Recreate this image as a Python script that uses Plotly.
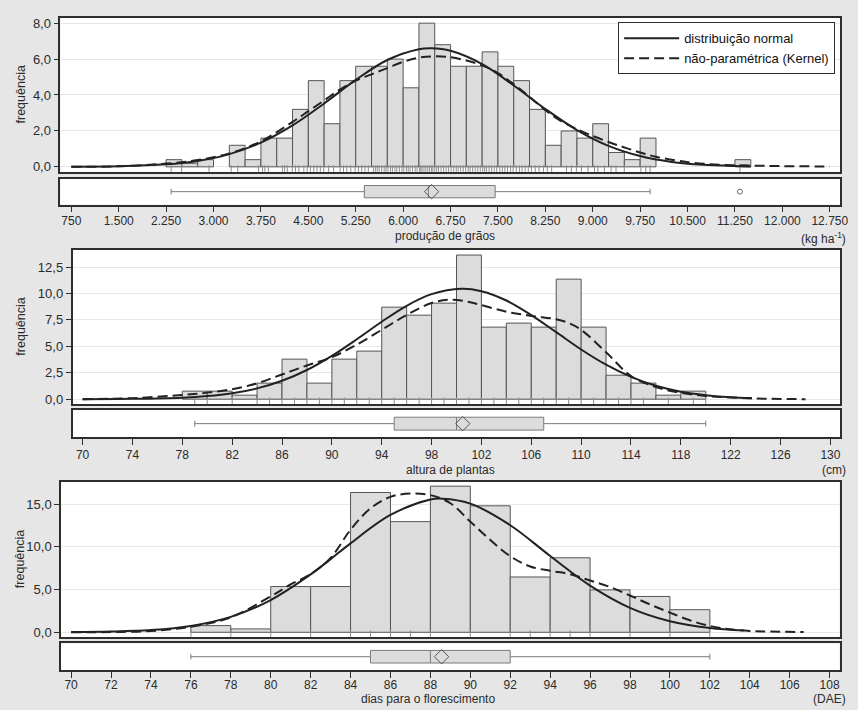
import plotly.graph_objects as go

W, H = 858, 710

# ======================= DATA =======================
# ---- Painel 1: produção de grãos (kg ha-1) ----
grain_bin_width = 250
grain_bin_left = [2250, 2500, 2750, 3250, 3500, 3750, 4000, 4250, 4500, 4750,
                  5000, 5250, 5500, 5750, 6000, 6250, 6500, 6750, 7000, 7250,
                  7500, 7750, 8000, 8250, 8500, 8750, 9000, 9250, 9500, 9750, 11250]
grain_freq = [0.4, 0.2, 0.4, 1.2, 0.4, 1.6, 1.6, 3.2, 4.8, 2.4,
              4.8, 5.6, 5.6, 6.0, 4.4, 8.0, 6.8, 5.6, 5.6, 6.4,
              5.6, 4.8, 3.2, 1.2, 2.0, 1.6, 2.4, 0.8, 0.4, 1.6, 0.4]
grain_normal_x = [750, 1500, 2250, 2750, 3250, 3750, 4250, 4750, 5250, 5750, 6250, 6450,
                  6750, 7250, 7750, 8250, 8750, 9250, 9750, 10250, 10750, 11250, 11500]
grain_normal_y = [0.01, 0.03, 0.14, 0.33, 0.71, 1.35, 2.31, 3.53, 4.84, 5.95, 6.55, 6.6,
                  6.46, 5.72, 4.53, 3.22, 2.05, 1.17, 0.60, 0.27, 0.11, 0.04, 0.02]
grain_kernel_x = [750, 1500, 2250, 2750, 3250, 3750, 4250, 4500, 4750, 5000, 5250, 5500,
                  5750, 6000, 6250, 6500, 6750, 7000, 7250, 7500, 7750, 8000, 8250, 8500,
                  8750, 9000, 9250, 9500, 9750, 10000, 10500, 11000, 11500, 12000, 12750]
grain_kernel_y = [0.0, 0.03, 0.18, 0.38, 0.75, 1.42, 2.5, 3.1, 3.7, 4.3, 4.8, 5.15,
                  5.5, 5.85, 6.08, 6.15, 6.1, 5.92, 5.65, 5.22, 4.6, 3.9, 3.15, 2.55,
                  2.1, 1.72, 1.38, 1.08, 0.8, 0.56, 0.26, 0.12, 0.07, 0.04, 0.02]
grain_rug = [2329, 2495, 2929, 3279, 3384, 3713, 3776, 3812, 3866, 4090, 4126, 4168,
             4246, 4298, 4351, 4429, 4482, 4533, 4586, 4638, 4690, 4743, 4821, 4900,
             5003, 5056, 5109, 5171, 5239, 5292, 5344, 5396, 5449, 5528, 5560, 5590,
             5620, 5660, 5700, 5730, 5760, 5800, 5830, 5870, 5900, 5940, 5980, 6010,
             6050, 6080, 6110, 6150, 6190, 6220, 6260, 6280, 6300, 6330, 6360, 6390,
             6420, 6450, 6470, 6500, 6530, 6560, 6600, 6640, 6680, 6720, 6760, 6800,
             6840, 6870, 6910, 6950, 6990, 7030, 7060, 7100, 7140, 7180, 7220, 7260,
             7290, 7320, 7360, 7400, 7440, 7480, 7530, 7570, 7610, 7650, 7700, 7740,
             7790, 7840, 7880, 7930, 7980, 8030, 8090, 8150, 8220, 8280, 8349, 8584,
             8663, 8741, 8820, 8924, 9028, 9080, 9185, 9290, 9368, 9499, 9761, 9839,
             9907, 11328]
grain_box_stats = [2329, 5386, 6400, 7456, 9907]   # whisker low, Q1, median, Q3, whisker high
grain_mean = 6450
grain_outliers = [11328]
grain_xticks = [750, 1500, 2250, 3000, 3750, 4500, 5250, 6000, 6750, 7500, 8250,
                9000, 9750, 10500, 11250, 12000, 12750]
grain_xticklabels = ['750', '1.500', '2.250', '3.000', '3.750', '4.500', '5.250', '6.000',
                     '6.750', '7.500', '8.250', '9.000', '9.750', '10.500', '11.250',
                     '12.000', '12.750']
grain_yticks = [0, 2, 4, 6, 8]
grain_yticklabels = ['0,0', '2,0', '4,0', '6,0', '8,0']

# ---- Painel 2: altura de plantas (cm) ----
height_bin_width = 2
height_bin_left = [78, 80, 82, 84, 86, 88, 90, 92, 94, 96, 98, 100, 102, 104, 106,
                   108, 110, 112, 114, 116, 118]
height_freq = [0.76, 0.76, 0.38, 1.52, 3.79, 1.52, 3.79, 4.55, 8.71, 7.95, 9.09, 13.64,
               6.82, 7.2, 6.82, 11.36, 6.82, 2.27, 1.52, 0.38, 0.76]
height_normal_x = [70, 74, 78, 80, 82, 84, 86, 88, 90, 92, 94, 96, 98, 100.4, 102, 104,
                   106, 108, 110, 112, 114, 116, 118, 120, 122, 123.7]
height_normal_y = [0.0, 0.03, 0.14, 0.29, 0.56, 1.02, 1.74, 2.76, 4.1, 5.67, 7.33, 8.84,
                   9.94, 10.45, 10.22, 9.34, 7.96, 6.34, 4.7, 3.26, 2.11, 1.27, 0.71,
                   0.38, 0.18, 0.1]
height_kernel_x = [70, 74, 78, 80, 82, 84, 86, 88, 90, 92, 94, 96, 98, 99.5, 101, 102,
                   104, 106, 108, 109, 110, 112, 114, 116, 118, 120, 122, 124, 128]
height_kernel_y = [0.0, 0.1, 0.4, 0.62, 0.94, 1.5, 2.34, 3.19, 3.97, 5.16, 6.56, 7.97,
                   9.1, 9.42, 9.2, 8.9, 8.28, 7.88, 7.56, 7.2, 6.56, 4.44, 2.19, 1.15,
                   0.6, 0.31, 0.16, 0.06, 0.0]
height_rug = [79, 80, 82, 84, 85, 86, 87, 88, 89, 90, 91, 92, 93, 94, 95, 96, 97, 98,
              99, 100, 101, 102, 103, 104, 105, 106, 107, 108, 109, 110, 111, 112, 113,
              114, 115, 117, 119, 120]
height_box_stats = [79, 95, 100, 107, 120]
height_mean = 100.5
height_outliers = []
height_xticks = [70, 74, 78, 82, 86, 90, 94, 98, 102, 106, 110, 114, 118, 122, 126, 130]
height_xticklabels = ['70', '74', '78', '82', '86', '90', '94', '98', '102', '106', '110',
                      '114', '118', '122', '126', '130']
height_yticks = [0, 2.5, 5, 7.5, 10, 12.5]
height_yticklabels = ['0,0', '2,5', '5,0', '7,5', '10,0', '12,5']

# ---- Painel 3: dias para o florescimento (DAE) ----
days_bin_width = 2
days_bin_left = [76, 78, 80, 82, 84, 86, 88, 90, 92, 94, 96, 98, 100]
days_freq = [0.78, 0.39, 5.35, 5.35, 16.36, 12.95, 17.1, 14.8, 6.47, 8.72, 4.96, 4.19, 2.64]
days_normal_x = [70, 72, 74, 76, 78, 80, 82, 83, 84, 86, 88, 88.6, 90, 92, 94, 96, 98,
                 100, 102, 103.7]
days_normal_y = [0.02, 0.08, 0.26, 0.74, 1.8, 3.77, 6.77, 8.56, 10.41, 13.73, 15.53,
                 15.64, 15.06, 12.53, 8.93, 5.46, 2.86, 1.29, 0.5, 0.2]
days_kernel_x = [70, 72, 74, 76, 78, 80, 81, 82, 83, 84, 85, 86, 87, 88, 89, 90, 91, 92,
                 93, 94, 95, 96, 97, 98, 99, 100, 101, 102, 103, 104, 105, 106.7]
days_kernel_y = [0.0, 0.03, 0.15, 0.65, 1.75, 4.2, 5.6, 6.8, 8.7, 12.0, 14.5, 15.85,
                 16.24, 16.05, 15.1, 12.95, 10.8, 8.9, 7.7, 7.2, 6.8, 6.05, 5.3, 4.3,
                 3.26, 2.3, 1.4, 0.74, 0.35, 0.15, 0.08, 0.02]
days_rug = [76, 78, 80, 82, 84, 85, 86, 87, 88, 90, 92, 93, 94, 95, 96, 98, 100, 102]
days_box_stats = [76, 85, 88, 92, 102]
days_mean = 88.56
days_outliers = []
days_xticks = [70, 72, 74, 76, 78, 80, 82, 84, 86, 88, 90, 92, 94, 96, 98, 100, 102,
               104, 106, 108]
days_xticklabels = ['70', '72', '74', '76', '78', '80', '82', '84', '86', '88', '90', '92',
                    '94', '96', '98', '100', '102', '104', '106', '108']
days_yticks = [0, 5, 10, 15]
days_yticklabels = ['0,0', '5,0', '10,0', '15,0']

# ======================= STYLE / LAYOUT =======================
FONT = "Liberation Sans, Arial, sans-serif"
TXT = "#2b2b2b"
FRAME = "#2e2e2e"
BAR_FILL = "#dcdcdc"
BAR_LINE = "#555555"
CURVE = "#222222"

panels = [
    dict(left=61, right=848, htop=15.7, hbot=171, btop=178, bbot=204,
         xr=[578, 12913], yr=[-0.276, 8.31], title_y=236, unit_y=238, lab_off=-2,
         title='produção de grãos', unit='(kg ha<sup>-1</sup>)',
         bw=grain_bin_width, bl=grain_bin_left, bf=grain_freq,
         nx=grain_normal_x, ny=grain_normal_y, kx=grain_kernel_x, ky=grain_kernel_y,
         rug=grain_rug, box=grain_box_stats, mean=grain_mean, out=grain_outliers,
         xt=grain_xticks, xtl=grain_xticklabels, yt=grain_yticks, ytl=grain_yticklabels),
    dict(left=73.3, right=848.3, htop=249.3, hbot=405, btop=411, bbot=438.3,
         xr=[69.2, 130.8], yr=[-0.47, 14.16], title_y=471, unit_y=471, lab_off=0,
         title='altura de plantas', unit='(cm)',
         bw=height_bin_width, bl=height_bin_left, bf=height_freq,
         nx=height_normal_x, ny=height_normal_y, kx=height_kernel_x, ky=height_kernel_y,
         rug=height_rug, box=height_box_stats, mean=height_mean, out=height_outliers,
         xt=height_xticks, xtl=height_xticklabels, yt=height_yticks, ytl=height_yticklabels),
    dict(left=61.7, right=847.5, htop=483.3, hbot=639.3, btop=646, bbot=672.7,
         xr=[69.5, 108.5], yr=[-0.53, 17.6], title_y=702, unit_y=702, lab_off=-3,
         title='dias para o florescimento', unit='(DAE)',
         bw=days_bin_width, bl=days_bin_left, bf=days_freq,
         nx=days_normal_x, ny=days_normal_y, kx=days_kernel_x, ky=days_kernel_y,
         rug=days_rug, box=days_box_stats, mean=days_mean, out=days_outliers,
         xt=days_xticks, xtl=days_xticklabels, yt=days_yticks, ytl=days_yticklabels),
]


def xdom(l, r):
    return [l / W, r / W]


def ydom(top, bot):
    return [1 - bot / H, 1 - top / H]


fig = go.Figure()
layout = dict(
    width=W, height=H, autosize=False,
    margin=dict(l=0, r=0, t=0, b=0),
    paper_bgcolor="#e6e6e6", plot_bgcolor="white",
    font=dict(family=FONT, color=TXT, size=12),
    hovermode=False,
    showlegend=True,
    legend=dict(x=843 / W, xanchor="right", y=1 - 20.5 / H, yanchor="top",
                bgcolor="white", bordercolor=FRAME, borderwidth=1,
                font=dict(size=13, family=FONT, color="#111"),
                itemwidth=55, tracegroupgap=0, traceorder="normal"),
    annotations=[],
)

for i, p in enumerate(panels):
    hi = 2 * i + 1
    bi = 2 * i + 2
    hx, hy = (f"x{hi}", f"y{hi}") if hi > 1 else ("x", "y")
    bx, by = f"x{bi}", f"y{bi}"
    hxk = "xaxis" if hi == 1 else f"xaxis{hi}"
    hyk = "yaxis" if hi == 1 else f"yaxis{hi}"
    bxk, byk = f"xaxis{bi}", f"yaxis{bi}"

    common_line = dict(showline=True, mirror=True, linecolor=FRAME, linewidth=1.7,
                       zeroline=False)
    layout[hxk] = dict(domain=xdom(p["left"], p["right"]), anchor=hy, range=p["xr"],
                       showticklabels=False, ticks="", showgrid=False, **common_line)
    layout[hyk] = dict(domain=ydom(p["htop"], p["hbot"]), anchor=hx, range=p["yr"],
                       tickmode="array", tickvals=p["yt"], ticktext=p["ytl"],
                       ticks="outside", ticklen=5, tickcolor=FRAME, tickwidth=1,
                       tickfont=dict(size=13, family=FONT, color=TXT),
                       showgrid=True, gridcolor="#e8e8e8", gridwidth=1, **common_line)
    layout[bxk] = dict(domain=xdom(p["left"], p["right"]), anchor=by, range=p["xr"],
                       tickmode="array", tickvals=p["xt"], ticktext=p["xtl"],
                       ticks="outside", ticklen=6, tickcolor=FRAME, tickwidth=1,
                       ticklabelstandoff=p["lab_off"],
                       tickfont=dict(size=12, family=FONT, color=TXT),
                       showgrid=False, **common_line)
    layout[byk] = dict(domain=ydom(p["btop"], p["bbot"]), anchor=bx, range=[-1, 1],
                       showticklabels=False, ticks="", showgrid=False, **common_line)

    first = i == 0
    # histogram bars
    fig.add_trace(go.Bar(x=p["bl"], y=p["bf"], width=p["bw"], offset=0,
                         marker=dict(color=BAR_FILL, line=dict(color=BAR_LINE, width=1)),
                         xaxis=hx, yaxis=hy, showlegend=False, hoverinfo="skip"))
    # rug
    rug_y = p["yr"][0] / 2
    fig.add_trace(go.Scatter(x=p["rug"], y=[rug_y] * len(p["rug"]), mode="markers",
                             marker=dict(symbol="line-ns", size=6,
                                         line=dict(width=1, color="#8c8c8c")),
                             xaxis=hx, yaxis=hy, showlegend=False, hoverinfo="skip"))
    # normal curve
    fig.add_trace(go.Scatter(x=p["nx"], y=p["ny"], mode="lines",
                             line=dict(color=CURVE, width=2, shape="spline", smoothing=1.0),
                             name="distribuição normal",
                             showlegend=first, xaxis=hx, yaxis=hy))
    # kernel curve
    fig.add_trace(go.Scatter(x=p["kx"], y=p["ky"], mode="lines",
                             line=dict(color=CURVE, width=2, dash="10px,5px",
                                       shape="spline", smoothing=1.0),
                             name="não-paramétrica (Kernel)",
                             showlegend=first, xaxis=hx, yaxis=hy))
    # box plot
    lo, q1, med, q3, up = p["box"]
    fig.add_trace(go.Box(q1=[q1], median=[med], q3=[q3], lowerfence=[lo], upperfence=[up],
                         y=[0], orientation="h", width=0.95, whiskerwidth=0.45,
                         fillcolor="#dcdcdc", line=dict(color="#7a7a7a", width=1),
                         boxpoints=False, xaxis=bx, yaxis=by, showlegend=False,
                         hoverinfo="skip"))
    fig.add_trace(go.Scatter(x=[p["mean"]], y=[0], mode="markers",
                             marker=dict(symbol="diamond-open", size=11, color="#555",
                                         line=dict(width=1, color="#555")),
                             xaxis=bx, yaxis=by, showlegend=False, hoverinfo="skip"))
    if p["out"]:
        fig.add_trace(go.Scatter(x=p["out"], y=[0] * len(p["out"]), mode="markers",
                                 marker=dict(symbol="circle-open", size=5, color="#666",
                                             line=dict(width=1, color="#666")),
                                 xaxis=bx, yaxis=by, showlegend=False, hoverinfo="skip"))

    # axis titles
    layout["annotations"].append(dict(
        text=p["title"], x=502 / W, y=1 - p["title_y"] / H, xref="paper", yref="paper",
        xanchor="right", yanchor="middle", showarrow=False,
        font=dict(size=12, family=FONT, color=TXT)))
    layout["annotations"].append(dict(
        text=p["unit"], x=856 / W, y=1 - p["unit_y"] / H, xref="paper",
        yref="paper", xanchor="right", yanchor="middle", showarrow=False,
        font=dict(size=12, family=FONT, color=TXT)))
    layout["annotations"].append(dict(
        text="frequência", x=21 / W, y=1 - ((p["htop"] + p["hbot"]) / 2) / H,
        xref="paper", yref="paper", xanchor="center", yanchor="middle",
        textangle=-90, showarrow=False, font=dict(size=12.5, family=FONT, color=TXT)))

fig.update_layout(**layout)
fig.write_html("out.html",
               config={"displayModeBar": False},
               post_script="document.body.style.margin='0px';"
                           "document.body.style.overflow='hidden';")
